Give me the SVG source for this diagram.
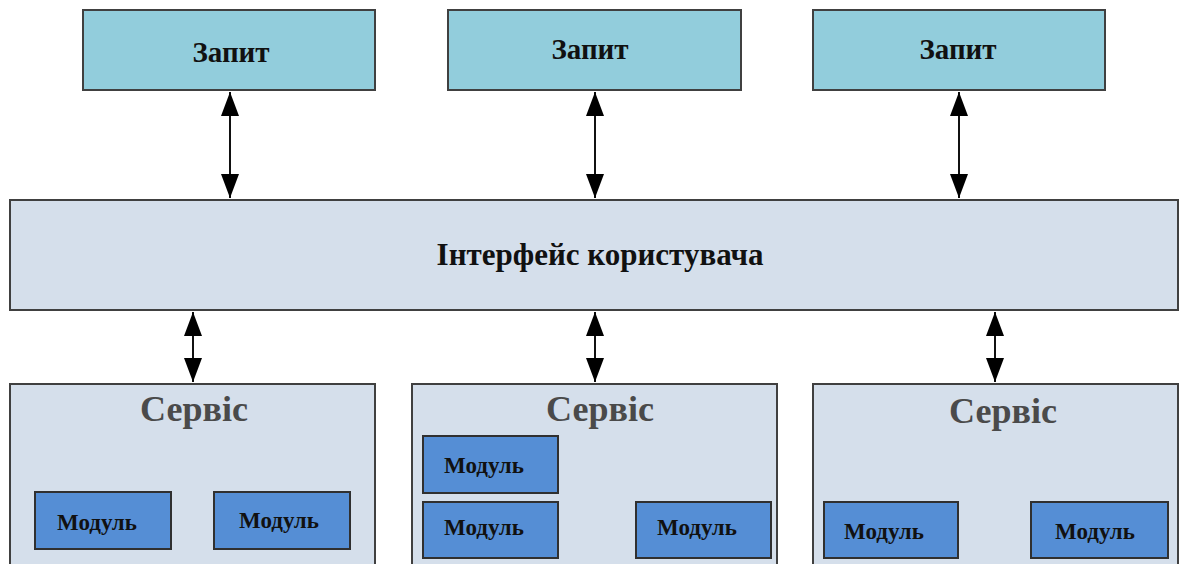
<svg xmlns="http://www.w3.org/2000/svg" width="1181" height="564" viewBox="0 0 1181 564">
<style>
  .req{fill:#92CDDC;stroke:#404040;stroke-width:2}
  .pane{fill:#D5DFEB;stroke:#404040;stroke-width:2}
  .mod{fill:#558ED5;stroke:#303030;stroke-width:2}
  .t{font-family:"Liberation Serif","Times New Roman",serif;font-weight:bold;text-anchor:middle;fill:#111}
  .tq{font-size:29px}
  .tm{font-size:31px}
  .ts{font-size:36px;fill:#4a4a4a}
  .tmod{font-size:23px}
  .conn line{stroke:#111;stroke-width:2}
</style>
<defs>
  <marker id="ah" viewBox="0 0 24 18" refX="24" refY="9" markerWidth="24" markerHeight="18" markerUnits="userSpaceOnUse" orient="auto-start-reverse">
    <path d="M0,0 L24,9 L0,18 Z" fill="#000"/>
  </marker>
</defs>
<rect width="1181" height="564" fill="#fff"/>

<g id="req1"><rect class="req" x="83" y="10" width="292" height="80"/><text class="t tq" x="231" y="62">Запит</text></g>
<g id="req2"><rect class="req" x="448" y="10" width="293" height="80"/><text class="t tq" x="590" y="59">Запит</text></g>
<g id="req3"><rect class="req" x="813" y="10" width="292" height="80"/><text class="t tq" x="958" y="59">Запит</text></g>

<g id="ui"><rect class="pane" x="10" y="200" width="1168" height="110"/><text class="t tm" x="600" y="265">Інтерфейс користувача</text></g>

<g id="svc1">
  <rect class="pane" x="10" y="384" width="365" height="200"/>
  <text class="t ts" x="194" y="421">Сервіс</text>
  <g id="svc1-m1"><rect class="mod" x="35" y="492" width="136" height="57"/><text class="t tmod" x="97" y="530">Модуль</text></g>
  <g id="svc1-m2"><rect class="mod" x="214" y="492" width="136" height="57"/><text class="t tmod" x="279" y="528">Модуль</text></g>
</g>
<g id="svc2">
  <rect class="pane" x="412" y="384" width="365" height="200"/>
  <text class="t ts" x="600" y="421">Сервіс</text>
  <g id="svc2-m1"><rect class="mod" x="423" y="436" width="135" height="57"/><text class="t tmod" x="484" y="473">Модуль</text></g>
  <g id="svc2-m2"><rect class="mod" x="423" y="502" width="135" height="56"/><text class="t tmod" x="484" y="535">Модуль</text></g>
  <g id="svc2-m3"><rect class="mod" x="636" y="502" width="135" height="56"/><text class="t tmod" x="697" y="535">Модуль</text></g>
</g>
<g id="svc3">
  <rect class="pane" x="813" y="384" width="365" height="200"/>
  <text class="t ts" x="1003" y="423">Сервіс</text>
  <g id="svc3-m1"><rect class="mod" x="824" y="502" width="134" height="56"/><text class="t tmod" x="884" y="539">Модуль</text></g>
  <g id="svc3-m2"><rect class="mod" x="1031" y="502" width="137" height="56"/><text class="t tmod" x="1095" y="539">Модуль</text></g>
</g>

<g id="connectors" class="conn">
  <line x1="230" y1="92" x2="230" y2="198" marker-start="url(#ah)" marker-end="url(#ah)"/>
  <line x1="595" y1="92" x2="595" y2="198" marker-start="url(#ah)" marker-end="url(#ah)"/>
  <line x1="959" y1="92" x2="959" y2="198" marker-start="url(#ah)" marker-end="url(#ah)"/>
  <line x1="193" y1="312" x2="193" y2="382" marker-start="url(#ah)" marker-end="url(#ah)"/>
  <line x1="595" y1="312" x2="595" y2="382" marker-start="url(#ah)" marker-end="url(#ah)"/>
  <line x1="995" y1="312" x2="995" y2="382" marker-start="url(#ah)" marker-end="url(#ah)"/>
</g>
</svg>
